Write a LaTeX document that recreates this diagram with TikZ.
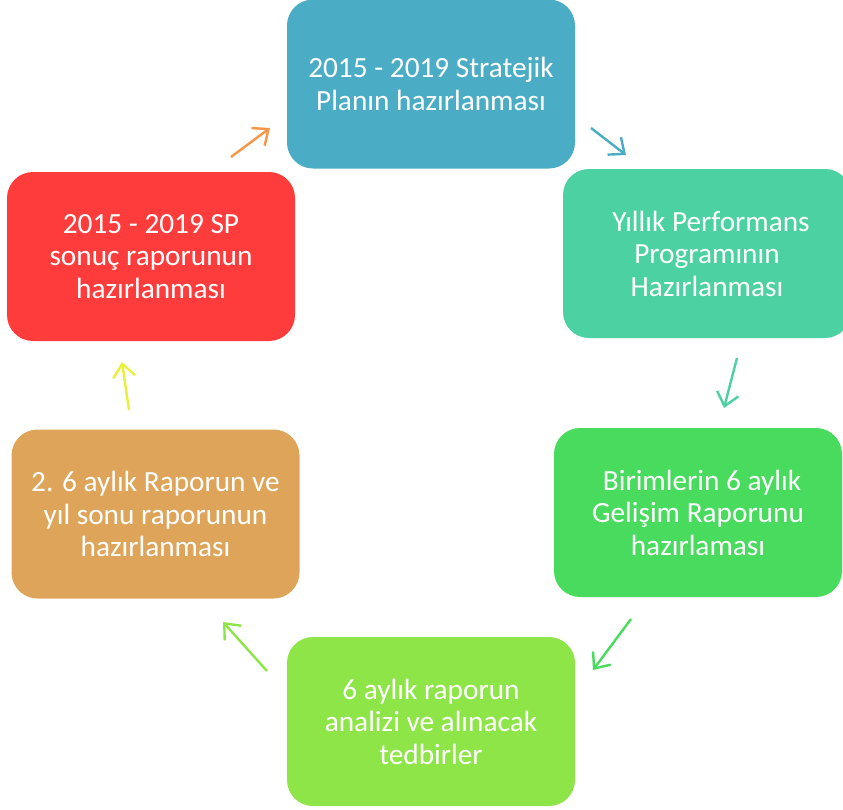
\documentclass[tikz,border=0pt]{standalone}
\usepackage{fontspec}
\setmainfont{Carlito}
\usetikzlibrary{arrows.meta}
\definecolor{cblue}{HTML}{4BACC6}
\definecolor{cteal}{HTML}{4BD1A2}
\definecolor{cgreen}{HTML}{48DB5E}
\definecolor{clime}{HTML}{8EE548}
\definecolor{corange}{HTML}{DEA459}
\definecolor{cred}{HTML}{FF3C3C}
\definecolor{cyellow}{HTML}{E8F03C}
\definecolor{carrorange}{HTML}{F79646}
\tikzset{
  box/.style={rectangle, rounded corners=26pt, minimum width=288pt, minimum height=169pt,
    inner sep=0pt, text=white, align=center, font=\fontsize{29.3}{32.5}\selectfont},
  flow/.style={line width=2.4pt, -{Straight Barb[length=13pt,width=22pt,line width=2.4pt]}}
}
\begin{document}
\begin{tikzpicture}[x=1pt,y=-1pt]
\useasboundingbox (0,0) rectangle (843,809);
\node[box, fill=cblue] (b1) at (431,84) {2015 - 2019 Stratejik\\Planın hazırlanması};
\node[box, fill=cteal] (b2) at (707,253.5) {\hspace*{8pt}Yıllık Performans\\Programının\\Hazırlanması};
\node[box, fill=cgreen] (b3) at (698,512.5) {\hspace*{8pt}Birimlerin 6 aylık\\Gelişim Raporunu\\hazırlaması};
\node[box, fill=clime] (b4) at (431,721.5) {6 aylık raporun\\analizi ve alınacak\\tedbirler};
\node[box, fill=corange] (b5) at (155.5,514) {2. 6 aylık Raporun ve\\yıl sonu raporunun\\hazırlanması};
\node[box, fill=cred] (b6) at (151,256.5) {2015 - 2019 SP\\sonuç raporunun\\hazırlanması};
\coordinate (a1s) at (591,128); \coordinate (a1e) at (626,155);
\coordinate (a2s) at (737,358); \coordinate (a2e) at (724,408);
\coordinate (a3s) at (631,619); \coordinate (a3e) at (593,670);
\coordinate (a4s) at (267,671); \coordinate (a4e) at (223,622);
\coordinate (a5s) at (129,410); \coordinate (a5e) at (122,362);
\coordinate (a6s) at (231,157); \coordinate (a6e) at (270,128);
\draw[flow, cblue] (a1s) -- (a1e);
\draw[flow, cteal] (a2s) -- (a2e);
\draw[flow, cgreen] (a3s) -- (a3e);
\draw[flow, clime] (a4s) -- (a4e);
\draw[flow, cyellow] (a5s) -- (a5e);
\draw[flow, carrorange] (a6s) -- (a6e);
\end{tikzpicture}
\end{document}
